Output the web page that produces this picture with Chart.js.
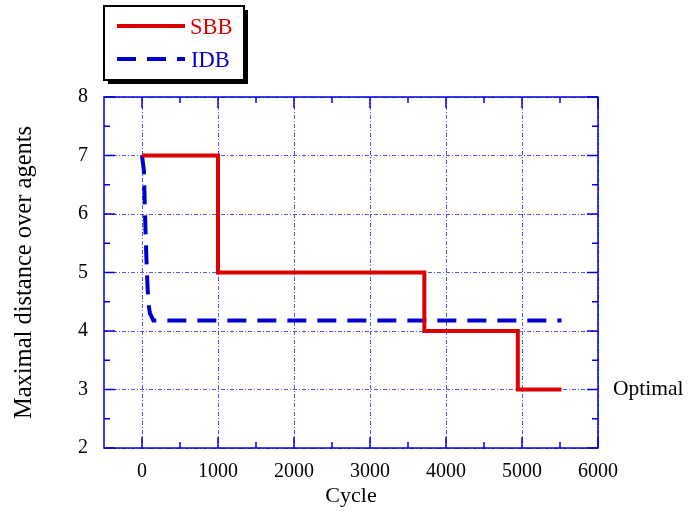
<!DOCTYPE html>
<html>
<head>
<meta charset="utf-8">
<script src="https://cdn.jsdelivr.net/npm/chart.js@4.4.0/dist/chart.umd.min.js"></script>
<style>
  html, body { margin: 0; padding: 0; background: #fff; }
  #wrap { width: 688px; height: 514px; }
</style>
</head>
<body>
<div id="wrap"><canvas id="chart" width="688" height="514"></canvas></div>
<script>
// Series
const sbbX = [0, 1000, 3715, 4945, 5520];
const sbbY = [7, 5, 4, 3, 3];

const idbX = [0, 25, 35, 46, 58, 74, 88, 105, 150, 5520];
const idbY = [7, 6.74, 6.23, 5.72, 5.24, 4.73, 4.44, 4.3, 4.18, 4.18];

// Axis ticks
const xTicks = [0, 1000, 2000, 3000, 4000, 5000, 6000];
const xMinor = [500, 1500, 2500, 3500, 4500, 5500];
const yTicks = [2, 3, 4, 5, 6, 7, 8];
const yMinor = [2.5, 3.5, 4.5, 5.5, 6.5, 7.5];

const optimalValue = 3;

const SERIF = "'Liberation Serif', 'DejaVu Serif', serif";
const RED = '#dd0000';
const BLUE = '#0000cc';
const AXIS_BLUE = '#0000dd';

function toPoints(xs, ys) {
    return xs.map((x, i) => ({ x: x, y: ys[i] }));
}

// Frame, inward tick marks on all four sides, "Optimal" label and the boxed legend
const framePlugin = {
    id: 'frame',
    afterDraw(chart) {
        const { ctx, chartArea: a, scales } = chart;
        const xs = scales.x, ys = scales.y;
        ctx.save();
        ctx.strokeStyle = AXIS_BLUE;
        ctx.lineWidth = 1.5;
        ctx.strokeRect(a.left, a.top, a.right - a.left, a.bottom - a.top);

        ctx.beginPath();
        const tickX = (v, len) => {
            const px = xs.getPixelForValue(v);
            ctx.moveTo(px, a.bottom); ctx.lineTo(px, a.bottom - len);
            ctx.moveTo(px, a.top); ctx.lineTo(px, a.top + len);
        };
        const tickY = (v, len) => {
            const py = ys.getPixelForValue(v);
            ctx.moveTo(a.left, py); ctx.lineTo(a.left + len, py);
            ctx.moveTo(a.right, py); ctx.lineTo(a.right - len, py);
        };
        xTicks.forEach(v => tickX(v, 11));
        xMinor.forEach(v => tickX(v, 6));
        yTicks.forEach(v => tickY(v, 11));
        yMinor.forEach(v => tickY(v, 6));
        ctx.stroke();

        // Optimal label
        ctx.fillStyle = '#000';
        ctx.font = '21.5px ' + SERIF;
        ctx.textAlign = 'left';
        ctx.textBaseline = 'middle';
        ctx.fillText('Optimal', a.right + 15, ys.getPixelForValue(optimalValue));

        // Legend box with drop shadow
        const bx = 104, by = 6, bw = 140, bh = 74;
        ctx.fillStyle = '#000';
        ctx.fillRect(bx + 4, by + 4, bw, bh);
        ctx.fillStyle = '#fff';
        ctx.fillRect(bx, by, bw, bh);
        ctx.strokeStyle = '#000';
        ctx.lineWidth = 2;
        ctx.strokeRect(bx, by, bw, bh);

        ctx.lineWidth = 4;
        ctx.strokeStyle = RED;
        ctx.beginPath();
        ctx.moveTo(117, 26); ctx.lineTo(185, 26);
        ctx.stroke();
        ctx.strokeStyle = BLUE;
        ctx.setLineDash([19, 11]);
        ctx.beginPath();
        ctx.moveTo(117, 59); ctx.lineTo(185, 59);
        ctx.stroke();
        ctx.setLineDash([]);

        ctx.font = '22.5px ' + SERIF;
        ctx.textBaseline = 'alphabetic';
        ctx.fillStyle = RED;
        ctx.fillText('SBB', 190, 34);
        ctx.fillStyle = BLUE;
        ctx.fillText('IDB', 191, 67);
        ctx.restore();
    }
};

const gridStyle = {
    drawTicks: false,
    color: 'rgba(40, 40, 235, 0.8)',
    lineWidth: 1
};
const gridBorder = { display: false, dash: [4, 2, 1, 2] };

new Chart(document.getElementById('chart'), {
    type: 'line',
    data: {
        datasets: [
            {
                label: 'SBB',
                data: toPoints(sbbX, sbbY),
                borderColor: RED,
                borderWidth: 4,
                stepped: true,
                pointRadius: 0,
                fill: false
            },
            {
                label: 'IDB',
                data: toPoints(idbX, idbY),
                borderColor: BLUE,
                borderWidth: 4,
                borderDash: [19, 11],
                tension: 0,
                pointRadius: 0,
                fill: false
            }
        ]
    },
    options: {
        responsive: false,
        animation: false,
        layout: { padding: { top: 97, right: 90, left: 0, bottom: 0 } },
        plugins: {
            legend: { display: false },
            tooltip: { enabled: false }
        },
        scales: {
            x: {
                type: 'linear',
                min: -500,
                max: 6000,
                afterBuildTicks: s => { s.ticks = xTicks.map(v => ({ value: v })); },
                afterFit: s => { s.height = 66; },
                grid: gridStyle,
                border: gridBorder,
                ticks: {
                    color: '#000',
                    padding: 12,
                    maxRotation: 0,
                    callback: v => String(v),
                    font: { family: SERIF, size: 20 }
                },
                title: {
                    display: true,
                    text: 'Cycle',
                    color: '#000',
                    padding: { top: 0, bottom: 5 },
                    font: { family: SERIF, size: 22 }
                }
            },
            y: {
                type: 'linear',
                min: 2,
                max: 8,
                afterBuildTicks: s => { s.ticks = yTicks.map(v => ({ value: v })); },
                afterFit: s => { s.width = 104; },
                grid: gridStyle,
                border: gridBorder,
                ticks: {
                    color: '#000',
                    padding: 16,
                    callback: v => String(v),
                    font: { family: SERIF, size: 20 }
                },
                title: {
                    display: true,
                    text: 'Maximal distance over agents',
                    color: '#000',
                    padding: { top: 10, bottom: 0 },
                    font: { family: SERIF, size: 24.5 }
                }
            }
        }
    },
    plugins: [framePlugin]
});
</script>
</body>
</html>
